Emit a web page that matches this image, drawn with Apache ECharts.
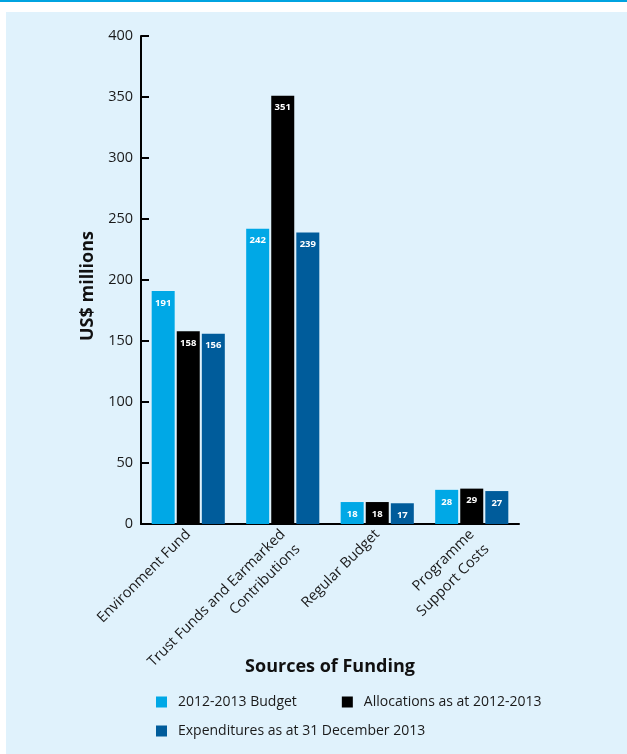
<!DOCTYPE html>
<html>
<head>
<meta charset="utf-8">
<script src="https://cdn.jsdelivr.net/npm/echarts@6/dist/echarts.min.js"></script>
<style>
  html, body { margin: 0; padding: 0; background: #ffffff; }
  #wrap { position: relative; width: 627px; height: 754px; overflow: hidden; }
  #topline { position: absolute; left: 0; top: 0; width: 627px; height: 2px; background: #00a3e0; }
  #panel { position: absolute; left: 6px; top: 12px; right: 0; bottom: 0; background: #e0f2fc; }
  #chart { position: absolute; left: 0; top: 0; width: 627px; height: 754px; }
</style>
</head>
<body>
<div id="wrap">
  <div id="topline"></div>
  <div id="panel"></div>
  <div id="chart"></div>
</div>
<script>
// Funding sources and the three measures per source (US$ millions)
const categories = [
  'Environment Fund',
  'Trust Funds and Earmarked\nContributions',
  'Regular Budget',
  'Programme\nSupport Costs'
];
const seriesNames = [
  '2012-2013 Budget',
  'Allocations as at 2012-2013',
  'Expenditures as at 31 December 2013'
];
const budget = [191, 242, 18, 28];
const allocations = [158, 351, 18, 29];
const expenditures = [156, 239, 17, 27];
const yTicks = { min: 0, max: 400, interval: 50 };

const colors = ['#00a8e6', '#000000', '#005c9b'];
const FONT = '"Open Sans", "Noto Sans", sans-serif';

const chart = echarts.init(document.getElementById('chart'), null, { renderer: 'canvas' });

function barSeries(name, data, color) {
  return {
    name: name,
    type: 'bar',
    data: data,
    barWidth: 23,
    barGap: '9%',
    itemStyle: { color: color },
    label: {
      show: true,
      position: 'insideTop',
      distance: 7,
      color: '#ffffff',
      fontSize: 9.5,
      fontWeight: 'bold',
      fontFamily: FONT
    }
  };
}

const legendText = { fontSize: 14, color: '#1a1a1a', fontFamily: FONT, padding: [0, 0, 0, 6] };

chart.setOption({
  animation: false,
  backgroundColor: 'transparent',
  textStyle: { fontFamily: FONT },
  grid: { left: 141, right: 108, top: 36, bottom: 230, containLabel: false },
  legend: [
    {
      data: [seriesNames[0], seriesNames[1]],
      left: 151,
      top: 690,
      icon: 'rect',
      itemWidth: 11,
      itemHeight: 11,
      itemGap: 45,
      textStyle: legendText
    },
    {
      data: [seriesNames[2]],
      left: 151,
      top: 719,
      icon: 'rect',
      itemWidth: 11,
      itemHeight: 11,
      textStyle: legendText
    }
  ],
  xAxis: {
    type: 'category',
    data: categories,
    name: 'Sources of Funding',
    nameLocation: 'middle',
    nameGap: 134,
    nameMoveOverlap: false,
    nameTextStyle: { fontSize: 18, fontWeight: 'bold', color: '#111111', fontFamily: FONT },
    axisLine: { lineStyle: { color: '#000000', width: 2 } },
    axisTick: { inside: true, length: 12, lineStyle: { color: '#000000', width: 2 } },
    axisLabel: {
      rotate: 45,
      margin: 8,
      fontSize: 14.5,
      lineHeight: 21,
      color: '#1a1a1a',
      fontFamily: FONT,
      interval: 0,
      // two-line labels hang from their first line: an empty leading line
      // keeps the first line level with the single-line labels
      formatter: function (v) {
        return v.indexOf('\n') >= 0 ? '\n' + v : v;
      }
    }
  },
  yAxis: {
    type: 'value',
    min: yTicks.min,
    max: yTicks.max,
    interval: yTicks.interval,
    name: 'US$ millions',
    nameLocation: 'middle',
    nameRotate: 90,
    nameGap: 40,
    nameTextStyle: { fontSize: 18, fontWeight: 'bold', color: '#111111', fontFamily: FONT, padding: [0, 12, 0, 0] },
    axisLine: { show: true, lineStyle: { color: '#000000', width: 2 } },
    axisTick: { show: true, inside: true, length: 8, lineStyle: { color: '#000000', width: 2 } },
    axisLabel: { margin: 8, fontSize: 14.5, color: '#1a1a1a', fontFamily: FONT },
    splitLine: { show: false }
  },
  series: [
    barSeries(seriesNames[0], budget, colors[0]),
    barSeries(seriesNames[1], allocations, colors[1]),
    barSeries(seriesNames[2], expenditures, colors[2])
  ]
});
</script>
</body>
</html>
